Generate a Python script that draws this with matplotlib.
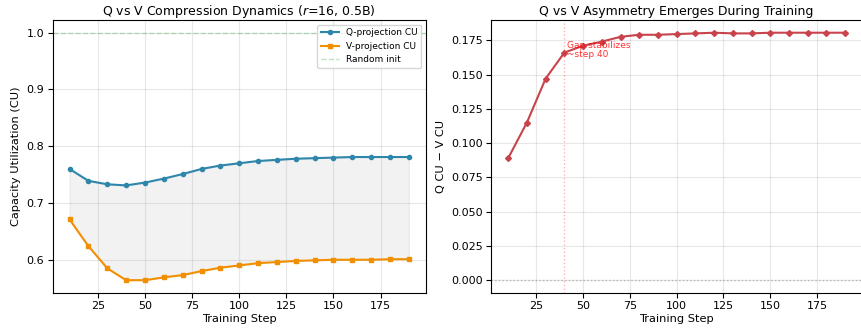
import matplotlib
matplotlib.use("Agg")
import matplotlib.pyplot as plt
import numpy as np

steps = [10, 20, 30, 40, 50, 60, 70, 80, 90, 100, 110, 120, 130, 140, 150, 160, 170, 180, 190]
q_cu = [0.760, 0.739, 0.733, 0.731, 0.736, 0.743, 0.751, 0.760, 0.766, 0.770,
        0.774, 0.776, 0.778, 0.779, 0.780, 0.781, 0.781, 0.781, 0.781]
v_cu = [0.671, 0.624, 0.585, 0.564, 0.564, 0.569, 0.573, 0.580, 0.586, 0.590,
        0.594, 0.596, 0.598, 0.599, 0.600, 0.600, 0.600, 0.601, 0.601]
gap = [0.089, 0.115, 0.147, 0.166, 0.171, 0.174, 0.1775, 0.179, 0.179, 0.1795,
       0.180, 0.1805, 0.180, 0.180, 0.1805, 0.1805, 0.1805, 0.1805, 0.1805]

c_q = "#2E86AB"
c_v = "#F18F01"
c_gap = "#C8434B"

fig = plt.figure(figsize=(8.62, 3.28), dpi=100)
ax1 = fig.add_axes([0.061, 0.108, 0.433, 0.830])
ax2 = fig.add_axes([0.570, 0.108, 0.430, 0.830])

ax1.plot(steps, q_cu, marker="o", color=c_q, lw=1.5, ms=3, label="Q-projection CU")
ax1.plot(steps, v_cu, marker="s", color=c_v, lw=1.5, ms=3, label="V-projection CU")
ax1.fill_between(steps, v_cu, q_cu, color="gray", alpha=0.1)
ax1.axhline(1.0, color="#2ca02c", ls="--", lw=1, alpha=0.3, label="Random init")
ax1.set_title("Q vs V Compression Dynamics ($r$=16, 0.5B)", fontsize=9, pad=4)
ax1.set_xlabel("Training Step", fontsize=8.2, labelpad=2)
ax1.set_ylabel("Capacity Utilization (CU)", fontsize=8.2)
ax1.set_xticks([25, 50, 75, 100, 125, 150, 175])
ax1.set_yticks([0.6, 0.7, 0.8, 0.9, 1.0])
ax1.tick_params(labelsize=8, pad=2.5)
ax1.grid(True, alpha=0.3)
ax1.legend(fontsize=6.5, loc="upper right")

ax2.plot(steps, gap, marker="D", color=c_gap, lw=1.5, ms=3)
ax2.axhline(0, color="gray", ls=":", lw=1, alpha=0.5)
ax2.axvline(40, color="red", ls=":", lw=1, alpha=0.3)
ax2.text(41.5, 0.161, "Gap stabilizes\n~step 40", color="red", fontsize=6.5, alpha=0.8,
         va="bottom", ha="left", linespacing=1.0)
ax2.set_title("Q vs V Asymmetry Emerges During Training", fontsize=9, pad=4)
ax2.set_xlabel("Training Step", fontsize=8.2, labelpad=2)
ax2.set_ylabel("Q CU \u2212 V CU", fontsize=8.2)
ax2.set_xticks([25, 50, 75, 100, 125, 150, 175])
ax2.tick_params(labelsize=8, pad=2.5)
ax2.grid(True, alpha=0.3)

fig.savefig("out.png", dpi=100)
